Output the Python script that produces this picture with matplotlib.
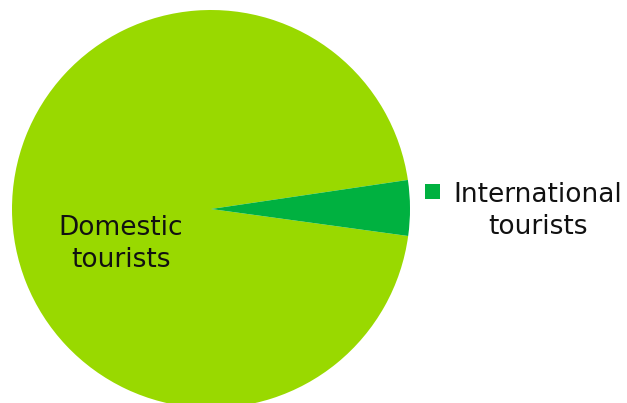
import matplotlib
matplotlib.use("Agg")
import matplotlib.pyplot as plt
from matplotlib.patches import Rectangle

categories = ["Domestic tourists", "International tourists"]
shares = [95.5, 4.5]
colors = ["#99D900", "#00B140"]

W, H, DPI = 627, 403, 100
fig = plt.figure(figsize=(W / DPI, H / DPI), dpi=DPI)
ax = fig.add_axes([0, 0, 1, 1])

wedges, _ = ax.pie(
    shares,
    colors=colors,
    startangle=-7.8,
    counterclock=False,
    center=(211, 194),
    radius=199,
    wedgeprops=dict(linewidth=0),
)
ax.set_xlim(0, W)
ax.set_ylim(0, H)
ax.set_aspect("equal")
ax.axis("off")

font = dict(family="DejaVu Sans", fontsize=19, color="#111111")

# In-slice label for the large wedge
ax.text(121, 159, "Domestic\ntourists", ha="center", va="center",
        multialignment="center", linespacing=1.28, **font)

# Legend entry for the small wedge
ax.add_patch(Rectangle((425, 204), 15, 15, facecolor=colors[1], edgecolor="none"))
ax.text(538, 192, "International\ntourists", ha="center", va="center",
        multialignment="center", linespacing=1.28, **font)

fig.savefig("out.png", dpi=DPI)
